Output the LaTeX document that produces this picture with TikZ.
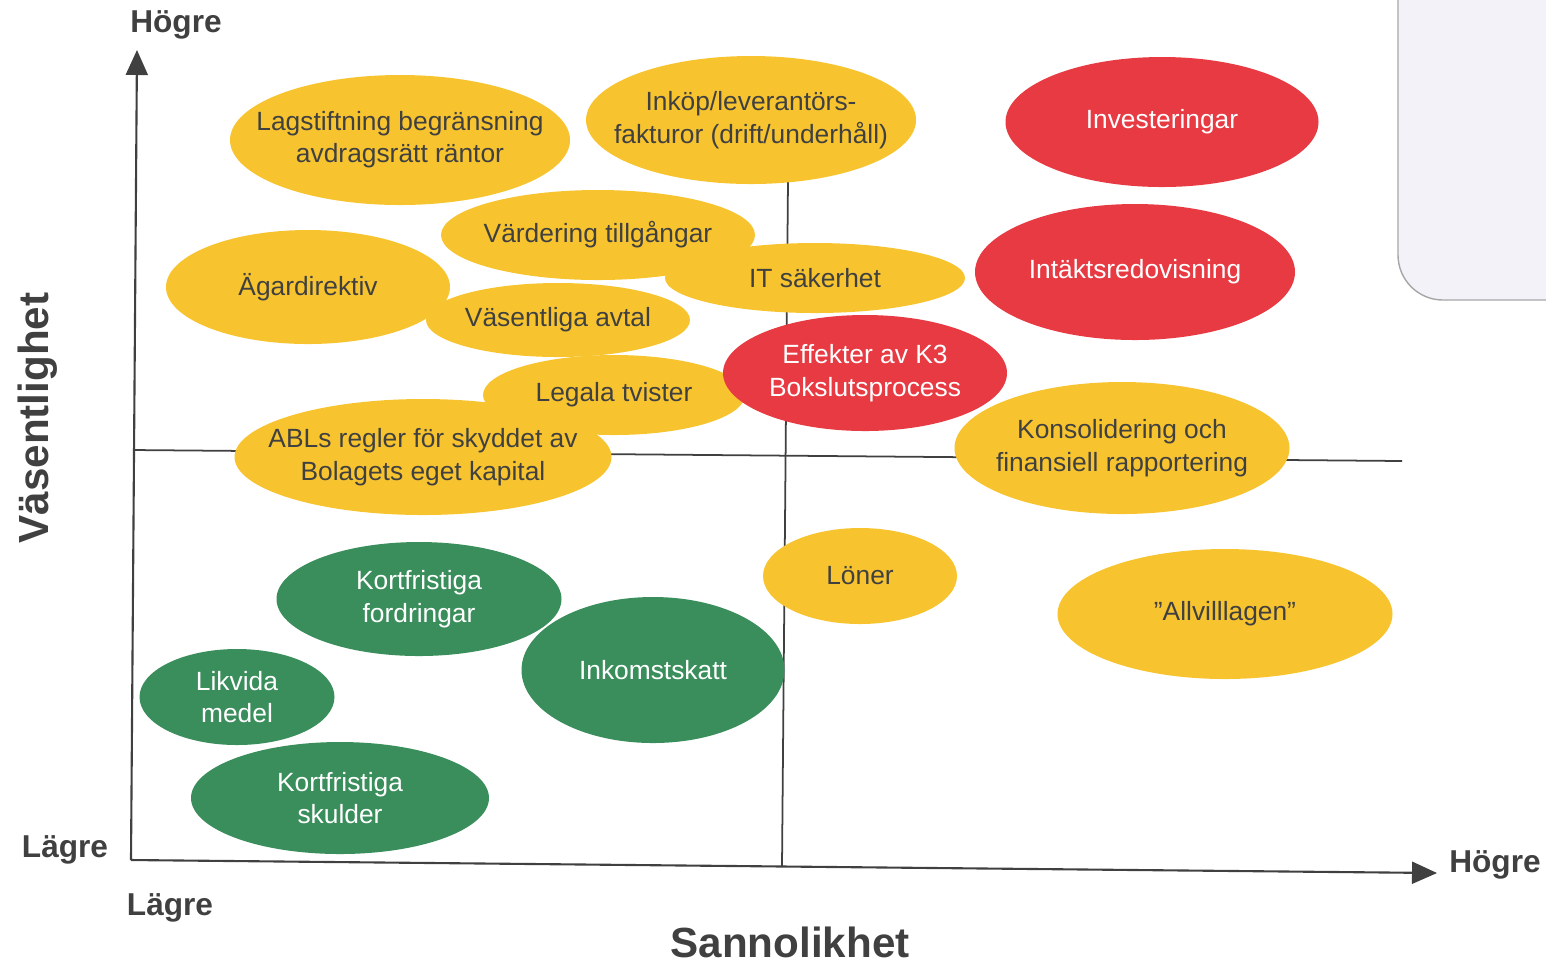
\documentclass[tikz,border=0pt]{standalone}
\usepackage{fontspec}
\setmainfont{Liberation Sans}
\usetikzlibrary{arrows.meta, shapes.geometric}
\definecolor{riskred}{RGB}{232,58,66}
\definecolor{riskyellow}{RGB}{247,196,48}
\definecolor{riskgreen}{RGB}{58,142,92}
\definecolor{inkgray}{RGB}{64,64,64}
\definecolor{panelfill}{RGB}{244,242,249}
\tikzset{
    risk/.style={ellipse, inner xsep=-4mm, inner ysep=-2mm, align=center,
        font=\fontsize{7.5}{9.2}\selectfont},
    hi/.style={risk, fill=riskred, text=white},
    mid/.style={risk, fill=riskyellow, text=inkgray},
    lo/.style={risk, fill=riskgreen, text=white},
    axis/.style={line width=0.6pt, draw=inkgray, -{Triangle[length=2.5mm,width=2.2mm]}},
    grid/.style={line width=0.5pt, draw=inkgray},
    axislabel/.style={text=inkgray, font=\bfseries\fontsize{9}{10}\selectfont},
    axistitle/.style={text=inkgray, font=\bfseries\fontsize{12}{14}\selectfont}}

\begin{document}
\begin{tikzpicture}[x=0.1mm, y=-0.1mm]
\useasboundingbox (0,0) rectangle (1546,965);

% panel in the corner
\fill[panelfill] (1398,0) {[rounded corners=4.5mm] -- (1398,300)} -- (1546,300) -- (1546,0) -- cycle;
\draw[gray!70, line width=0.4pt] (1398,0) {[rounded corners=4.5mm] -- (1398,300)} -- (1546,300);

% axes and quadrant lines
\coordinate (o) at (131,860);
\coordinate (ytop) at (137,50);
\coordinate (xend) at (1437,873);
\coordinate (hl) at (133,450);
\coordinate (hr) at (1402,461);
\coordinate (vt) at (788,180);
\coordinate (vb) at (782,866);
\draw[grid] (hl) -- (hr);
\draw[grid] (vt) -- (vb);
\draw[axis] (o) -- (ytop);
\draw[axis] (o) -- (xend);

% risks
\node[mid, minimum width=3.4cm, minimum height=1.3cm] (lag) at (400,140) {Lagstiftning begränsning\\avdragsrätt räntor};
\node[mid, minimum width=3.3cm, minimum height=1.28cm] (ink) at (751,120) {Inköp/leverantörs-\\fakturor (drift/underhåll)};
\node[hi, minimum width=3.13cm, minimum height=1.3cm] (inv) at (1162,122) {Investeringar};
\node[mid, minimum width=3.14cm, minimum height=0.9cm] (vard) at (598,235) {Värdering tillgångar};
\node[mid, minimum width=2.84cm, minimum height=1.14cm] (agar) at (308,287) {Ägardirektiv};
\node[mid, minimum width=3.0cm, minimum height=0.7cm] (its) at (815,278) {IT säkerhet};
\node[hi, minimum width=3.2cm, minimum height=1.36cm] (intakt) at (1135,272) {Intäktsredovisning};
\node[mid, minimum width=2.64cm, minimum height=0.74cm] (avtal) at (558,320) {Väsentliga avtal};
\node[mid, minimum width=2.62cm, minimum height=0.8cm] (tvist) at (614,395) {Legala tvister};
\node[hi, minimum width=2.84cm, minimum height=1.16cm] (k3) at (865,373) {Effekter av K3\\Bokslutsprocess};
\node[mid, minimum width=3.77cm, minimum height=1.16cm] (abl) at (423,457) {ABLs regler för skyddet av\\Bolagets eget kapital};
\node[mid, minimum width=3.35cm, minimum height=1.32cm] (kons) at (1122,448) {Konsolidering och\\finansiell rapportering};
\node[mid, minimum width=1.94cm, minimum height=0.96cm] (lon) at (860,576) {Löner};
\node[mid, minimum width=3.35cm, minimum height=1.3cm] (allv) at (1225,614) {”Allvilllagen”};
\node[lo, minimum width=2.85cm, minimum height=1.14cm] (kfo) at (419,599) {Kortfristiga\\fordringar};
\node[lo, minimum width=2.63cm, minimum height=1.46cm] (skatt) at (653,670) {Inkomstskatt};
\node[lo, minimum width=1.95cm, minimum height=0.96cm] (likv) at (237,697) {Likvida\\medel};
\node[lo, minimum width=2.98cm, minimum height=1.12cm] (ksk) at (340,798) {Kortfristiga\\skulder};

% axis labels
\node[axislabel] (yhi) at (176,25) {Högre};
\node[axislabel] (ylo) at (65,850) {Lägre};
\node[axislabel] (xlo) at (170,908) {Lägre};
\node[axislabel] (xhi) at (1495,865) {Högre};
\node[axistitle, rotate=90] (ytitle) at (38,418) {Väsentlighet};
\node[axistitle] (xtitle) at (790,942) {Sannolikhet};
\end{tikzpicture}
\end{document}
